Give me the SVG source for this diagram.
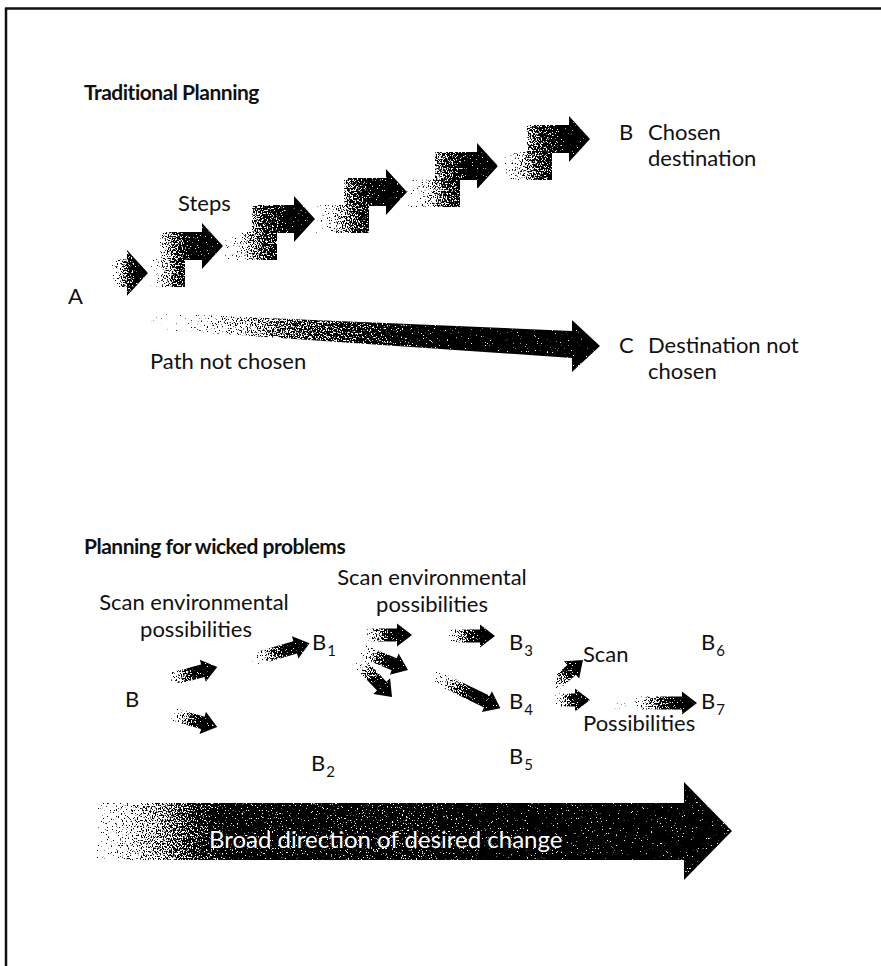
<svg xmlns="http://www.w3.org/2000/svg" width="881" height="966" viewBox="0 0 881 966">
  <style>
    .lbl { font-family: Lato, "Open Sans", "Liberation Sans", sans-serif; font-size: 22px; fill: #111; }
    .sub { font-size: 15px; }
    .ttl { font-family: Lato, "Open Sans", "Liberation Sans", sans-serif; font-size: 21px; font-weight: 700; fill: #111; letter-spacing: -0.5px; }
    .big { font-family: Lato, "Open Sans", "Liberation Sans", sans-serif; font-size: 24px; fill: #fff; }
    .frame { stroke: #111; stroke-width: 2.5; fill: none; }
  </style>
  <defs>
    <!-- halftone grain: the grey ramp is dithered against noise into black specks -->
    <filter id="grain" x="-5%" y="-10%" width="110%" height="120%" color-interpolation-filters="sRGB">
      <feTurbulence type="fractalNoise" baseFrequency="0.8 0.6" numOctaves="2" seed="7" result="t"/>
      <feColorMatrix in="t" type="matrix" values="1.8 0 0 0 -0.4  1.8 0 0 0 -0.4  1.8 0 0 0 -0.4  0 0 0 0 1" result="n"/>
      <!-- unpremultiplied, fully opaque copy so soft edges are not read as dark -->
      <feColorMatrix in="SourceGraphic" type="matrix" values="1 0 0 0 0  0 1 0 0 0  0 0 1 0 0  0 0 0 0 1" result="flat"/>
      <feComposite in="flat" in2="n" operator="arithmetic" k1="0" k2="4" k3="-4" k4="0.5" result="d"/>
      <feColorMatrix in="d" type="matrix" values="0 0 0 0 0  0 0 0 0 0  0 0 0 0 0  -1 0 0 0 1" result="ink"/>
      <feComposite in="ink" in2="SourceAlpha" operator="in"/>
    </filter>

    <!-- step ramp: pale tail, mottled block, solid head -->
    <linearGradient id="ramp">
      <stop offset="0" stop-color="#f4f4f4"/>
      <stop offset="0.35" stop-color="#999"/>
      <stop offset="0.55" stop-color="#5a5a5a"/>
      <stop offset="0.8" stop-color="#262626"/>
      <stop offset="1" stop-color="#000"/>
    </linearGradient>
    <linearGradient id="s1" href="#ramp" gradientUnits="userSpaceOnUse" x1="110" y1="0" x2="140" y2="0"/>
    <linearGradient id="s2" href="#ramp" gradientUnits="userSpaceOnUse" x1="148" y1="0" x2="198" y2="0"/>
    <linearGradient id="s3" href="#ramp" gradientUnits="userSpaceOnUse" x1="223" y1="0" x2="292" y2="0"/>
    <linearGradient id="s4" href="#ramp" gradientUnits="userSpaceOnUse" x1="315" y1="0" x2="384" y2="0"/>
    <linearGradient id="s5" href="#ramp" gradientUnits="userSpaceOnUse" x1="407" y1="0" x2="475" y2="0"/>
    <linearGradient id="s6" href="#ramp" gradientUnits="userSpaceOnUse" x1="498" y1="0" x2="567" y2="0"/>
    <linearGradient id="small">
      <stop offset="0" stop-color="#e6e6e6"/>
      <stop offset="0.3" stop-color="#808080"/>
      <stop offset="0.55" stop-color="#262626"/>
      <stop offset="0.75" stop-color="#000"/>
      <stop offset="1" stop-color="#000"/>
    </linearGradient>
    <linearGradient id="long">
      <stop offset="0" stop-color="#fff"/>
      <stop offset="0.3" stop-color="#ccc"/>
      <stop offset="0.6" stop-color="#4d4d4d"/>
      <stop offset="0.8" stop-color="#000"/>
      <stop offset="1" stop-color="#000"/>
    </linearGradient>
    <linearGradient id="path" gradientUnits="userSpaceOnUse" x1="150" y1="0" x2="600" y2="0">
      <stop offset="0" stop-color="#f8f8f8"/>
      <stop offset="0.15" stop-color="#b3b3b3"/>
      <stop offset="0.3" stop-color="#666"/>
      <stop offset="0.5" stop-color="#333"/>
      <stop offset="0.65" stop-color="#000"/>
      <stop offset="1" stop-color="#000"/>
    </linearGradient>
    <linearGradient id="broad" gradientUnits="userSpaceOnUse" x1="97" y1="0" x2="732" y2="0">
      <stop offset="0" stop-color="#d9d9d9"/>
      <stop offset="0.1" stop-color="#808080"/>
      <stop offset="0.2" stop-color="#141414"/>
      <stop offset="0.35" stop-color="#151515"/>
      <stop offset="0.5" stop-color="#1e1e1e"/>
      <stop offset="0.65" stop-color="#050505"/>
      <stop offset="1" stop-color="#000"/>
    </linearGradient>
  </defs>

  <rect width="881" height="966" fill="#fff"/>

  <!-- frame: top rule and left rule -->
  <g id="frame">
    <path class="frame" d="M5,8.5 H881 M6,8 V966"/>
  </g>

  <!-- ===== Traditional planning ===== -->
  <g id="title-traditional">
    <text class="ttl" x="84" y="100">Traditional Planning</text>
  </g>

  <g id="steps" filter="url(#grain)">
    <path fill="url(#s1)" d="M112,259 L127,259 L127,250 L148,273 L127,296 L127,287 L112,287 Z"/>
    <path fill="url(#s2)" d="M148,259 L160,259 L160,232 L202,232 L202,223 L223,246 L202,269 L202,260 L185,260 L185,287 L148,287 Z"/>
    <path fill="url(#s3)" d="M223,232 L252,232 L252,205 L294,205 L294,196 L315,219 L294,242 L294,233 L277,233 L277,260 L223,260 Z"/>
    <path fill="url(#s4)" d="M315,205 L344,205 L344,178 L386,178 L386,169 L407,192 L386,215 L386,206 L369,206 L369,233 L315,233 Z"/>
    <path fill="url(#s5)" d="M407,179 L435,179 L435,152 L477,152 L477,143 L498,166 L477,189 L477,180 L460,180 L460,207 L407,207 Z"/>
    <path fill="url(#s6)" d="M498,152 L527,152 L527,125 L569,125 L569,116 L590,139 L569,162 L569,153 L552,153 L552,180 L498,180 Z"/>
  </g>

  <g id="node-A"><text class="lbl" x="68" y="304">A</text></g>
  <g id="label-steps"><text class="lbl" x="178" y="211">Steps</text></g>
  <g id="node-B-chosen">
    <text class="lbl" x="619" y="140">B</text>
    <text class="lbl" x="648" y="140">Chosen</text>
    <text class="lbl" x="648" y="166">destination</text>
  </g>

  <g id="path-not-chosen">
    <path filter="url(#grain)" fill="url(#path)" d="M150,313 L572,331 L572,320 L600,346 L572,372 L572,358 L150,329 Z"/>
    <text class="lbl" x="150" y="369">Path not chosen</text>
  </g>
  <g id="node-C">
    <text class="lbl" x="619" y="353">C</text>
    <text class="lbl" x="648" y="353">Destination not</text>
    <text class="lbl" x="648" y="379">chosen</text>
  </g>

  <!-- ===== Planning for wicked problems ===== -->
  <g id="title-wicked">
    <text class="ttl" x="84" y="554">Planning for wicked problems</text>
  </g>

  <g id="scan-1">
    <text class="lbl" x="194" y="610" text-anchor="middle">Scan environmental</text>
    <text class="lbl" x="196" y="637" text-anchor="middle">possibilities</text>
  </g>
  <g id="scan-2">
    <text class="lbl" x="432" y="585" text-anchor="middle">Scan environmental</text>
    <text class="lbl" x="432" y="612" text-anchor="middle">possibilities</text>
  </g>

  <g id="node-B"><text class="lbl" x="125" y="707">B</text></g>
  <g id="node-B1"><text class="lbl" x="312" y="650">B<tspan class="sub" dx="1" dy="6">1</tspan></text></g>
  <g id="node-B2"><text class="lbl" x="311" y="771">B<tspan class="sub" dx="1" dy="6">2</tspan></text></g>
  <g id="node-B3"><text class="lbl" x="509" y="650">B<tspan class="sub" dx="1" dy="6">3</tspan></text></g>
  <g id="node-B4"><text class="lbl" x="509" y="709">B<tspan class="sub" dx="1" dy="6">4</tspan></text></g>
  <g id="node-B5"><text class="lbl" x="509" y="764">B<tspan class="sub" dx="1" dy="6">5</tspan></text></g>
  <g id="node-B6"><text class="lbl" x="701" y="650">B<tspan class="sub" dx="1" dy="6">6</tspan></text></g>
  <g id="node-B7"><text class="lbl" x="701" y="709">B<tspan class="sub" dx="1" dy="6">7</tspan></text></g>
  <g id="label-scan"><text class="lbl" x="583" y="662">Scan</text></g>
  <g id="label-possibilities"><text class="lbl" x="583" y="731">Possibilities</text></g>

  <!-- short scanning arrows: tail at origin, pointing along +x -->
  <g id="connectors" fill="url(#small)" filter="url(#grain)">
    <path transform="translate(168,680) rotate(-14.9)" d="M0,-6.5 H36 V-11.5 L51,0 L36,11.5 V6.5 H0 Z"/>
    <path transform="translate(172,714) rotate(16.1)" d="M0,-6.5 H32 V-11.5 L47,0 L32,11.5 V6.5 H0 Z"/>
    <path transform="translate(252,660) rotate(-16.3)" d="M0,-6.5 H45 V-11.5 L60,0 L45,11.5 V6.5 H0 Z"/>
    <path transform="translate(363,635)" d="M0,-6.5 H34 V-11.5 L49,0 L34,11.5 V6.5 H0 Z"/>
    <path transform="translate(360,650) rotate(22.6)" d="M0,-6.5 H37 V-11.5 L52,0 L37,11.5 V6.5 H0 Z"/>
    <path transform="translate(357,660) rotate(46.6)" d="M0,-6.5 H36 V-11.5 L51,0 L36,11.5 V6.5 H0 Z"/>
    <path transform="translate(447,636)" d="M0,-6.5 H33 V-11.5 L48,0 L33,11.5 V6.5 H0 Z"/>
    <path transform="translate(432,675) rotate(25.9)" d="M0,-6.5 H61 V-11.5 L76,0 L61,11.5 V6.5 H0 Z"/>
    <path transform="translate(552,687) rotate(-41)" d="M0,-6.5 H26 V-11.5 L41,0 L26,11.5 V6.5 H0 Z"/>
    <path transform="translate(555,700)" d="M0,-6.5 H20 V-11.5 L35,0 L20,11.5 V6.5 H0 Z"/>
    <path fill="url(#long)" transform="translate(610,703)" d="M0,-6.5 H72 V-11.5 L87,0 L72,11.5 V6.5 H0 Z"/>
  </g>

  <g id="broad-direction">
    <path filter="url(#grain)" fill="url(#broad)" d="M97,803 H684 V782 L732,831 L684,880 V860 H97 Z"/>
    <text class="big" x="209" y="848">Broad direction of desired change</text>
  </g>
</svg>
